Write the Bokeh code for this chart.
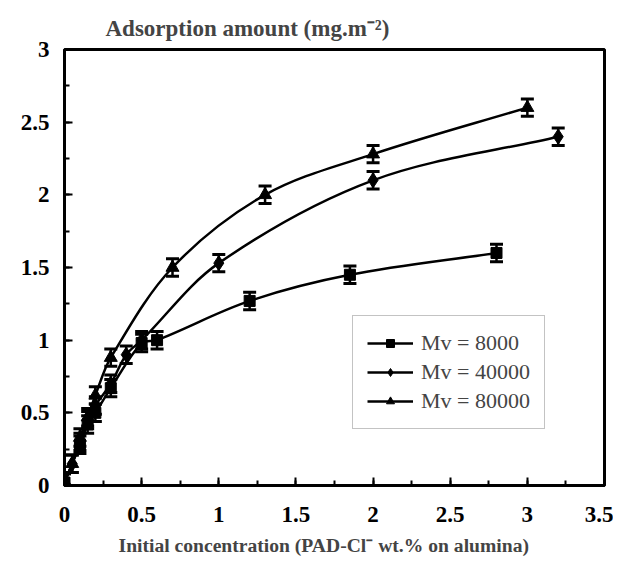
import numpy as np
from bokeh.plotting import figure
from bokeh.models import (Range1d, Whisker, TeeHead, ColumnDataSource, Legend,
                          LegendItem, SingleIntervalTicker, CustomJSTickFormatter,
                          Title)
from bokeh.embed import file_html
from bokeh.resources import INLINE

# ---- data ----
x_8000 = [0.0, 0.1, 0.15, 0.2, 0.3, 0.5, 0.6, 1.2, 1.85, 2.8]
y_8000 = [0.02, 0.28, 0.42, 0.5, 0.67, 0.98, 1.0, 1.27, 1.45, 1.6]

x_40000 = [0.0, 0.05, 0.1, 0.15, 0.2, 0.3, 0.4, 0.5, 1.0, 2.0, 3.2]
y_40000 = [0.02, 0.15, 0.3, 0.45, 0.55, 0.7, 0.9, 1.0, 1.53, 2.1, 2.4]

x_80000 = [0.0, 0.05, 0.1, 0.15, 0.2, 0.3, 0.7, 1.3, 2.0, 3.0]
y_80000 = [0.03, 0.15, 0.33, 0.47, 0.62, 0.88, 1.5, 2.0, 2.28, 2.6]

err = 0.06

labels = ["Mv = 8000", "Mv = 40000", "Mv = 80000"]
markers = ["square", "diamond", "triangle"]
marker_sizes = [11, 15, 13]

title_text = "Adsorption amount (mg.m\u207b\u00b2)"
xlabel_text = "Initial concentration (PAD-Cl\u207b wt.% on alumina)"

FONT = "Liberation Serif"


def smooth(xs, ys, sy=145 / 154):
    P = np.column_stack([np.asarray(xs, float), np.asarray(ys, float) * sy])
    n = len(P)
    T = np.zeros_like(P)
    for i in range(n):
        if i == 0:
            d = P[1] - P[0]
        elif i == n - 1:
            d = P[-1] - P[-2]
        else:
            d = P[i + 1] - P[i - 1]
        T[i] = d / np.linalg.norm(d)
    out = {k: [] for k in ["x0", "y0", "x1", "y1", "cx0", "cy0", "cx1", "cy1"]}
    for i in range(n - 1):
        L = np.linalg.norm(P[i + 1] - P[i])
        c0 = P[i] + T[i] * L / 3
        c1 = P[i + 1] - T[i + 1] * L / 3
        out["x0"].append(P[i][0]); out["y0"].append(P[i][1] / sy)
        out["x1"].append(P[i + 1][0]); out["y1"].append(P[i + 1][1] / sy)
        out["cx0"].append(c0[0]); out["cy0"].append(c0[1] / sy)
        out["cx1"].append(c1[0]); out["cy1"].append(c1[1] / sy)
    return out


p = figure(width=613, height=564, output_backend="svg", toolbar_location=None,
           x_range=Range1d(0, 3.5), y_range=Range1d(0, 3),
           min_border_left=64, min_border_right=9, min_border_top=49,
           min_border_bottom=78)

p.xgrid.visible = False
p.ygrid.visible = False
p.outline_line_color = "black"
p.outline_line_width = 3
p.outline_line_alpha = 1.0

p.title.text = title_text
p.title.text_font = FONT
p.title.text_font_size = "23px"
p.title.text_font_style = "bold"
p.title.align = "left"
p.title.offset = 41
p.title.standoff = 17

fmt = CustomJSTickFormatter(code="return String(Math.round(tick*100)/100);")
for ax in (p.xaxis[0], p.yaxis[0]):
    ax.ticker = SingleIntervalTicker(interval=0.5, num_minor_ticks=2)
    ax.formatter = fmt
    ax.axis_line_width = 3
    ax.major_tick_in = 8
    ax.major_tick_out = 0
    ax.minor_tick_in = 5
    ax.minor_tick_out = 0
    ax.major_tick_line_width = 2
    ax.minor_tick_line_width = 2
    ax.major_label_text_font = FONT
    ax.major_label_text_font_style = "bold"
    ax.major_label_text_font_size = "23px"
    ax.major_label_text_color = "black"

p.xaxis.major_label_standoff = 21
p.yaxis.major_label_standoff = 15

xlab = Title(text=xlabel_text, align="left", offset=54, text_font=FONT,
             text_font_size="19.6px", text_font_style="bold", standoff=17)
p.add_layout(xlab, "below")

items = []
for xs, ys, lab, mk, ms in zip([x_8000, x_40000, x_80000],
                               [y_8000, y_40000, y_80000],
                               labels, markers, marker_sizes):
    seg = smooth(xs, ys)
    br = p.bezier(x0="x0", y0="y0", x1="x1", y1="y1", cx0="cx0", cy0="cy0",
                  cx1="cx1", cy1="cy1", source=ColumnDataSource(seg),
                  line_color="black", line_width=2.5)
    src = ColumnDataSource(dict(x=xs, y=ys,
                                up=[v + err for v in ys],
                                lo=[v - err for v in ys]))
    wh = Whisker(base="x", upper="up", lower="lo", source=src,
                 line_width=2.5, line_color="black",
                 upper_head=TeeHead(size=13, line_width=3, line_color="black"),
                 lower_head=TeeHead(size=13, line_width=3, line_color="black"))
    p.add_layout(wh)
    sr = p.scatter("x", "y", source=src, marker=mk, size=ms,
                   fill_color="black", line_color="black")
    items.append(LegendItem(label=lab, renderers=[br, sr], index=0))

legend = Legend(items=items, location=(288, 56))
legend.label_text_font = FONT
legend.label_text_font_size = "22px"
legend.border_line_color = "#888888"
legend.border_line_width = 1
legend.glyph_width = 46
legend.glyph_height = 20
legend.label_standoff = 8
legend.spacing = 3
legend.padding = 14
legend.margin = 0
legend.background_fill_color = "white"
legend.background_fill_alpha = 1.0
p.add_layout(legend)

open("out.html", "w").write(file_html(p, INLINE))
